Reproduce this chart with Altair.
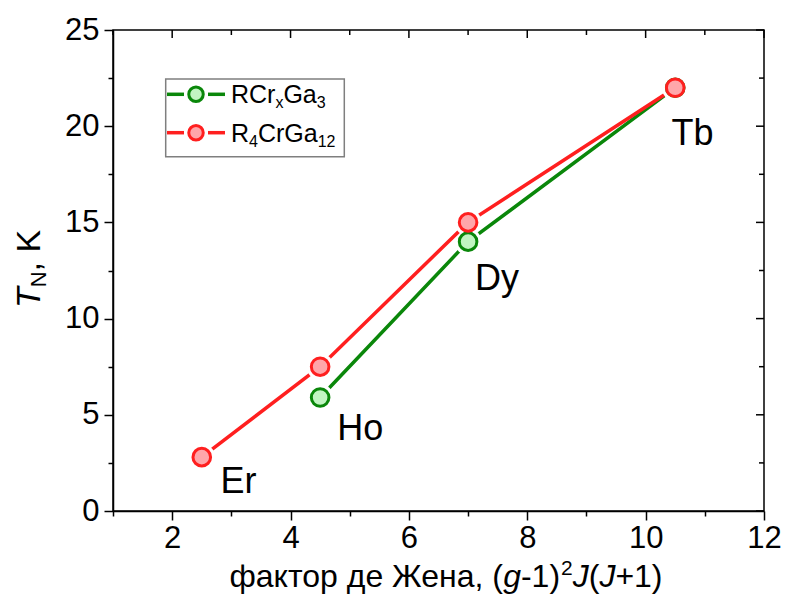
import altair as alt
import pandas as pd

# ---------------- data ----------------
elements = ["Er", "Ho", "Dy", "Tb"]
de_gennes = [2.5, 4.5, 7.0, 10.5]
# RCrxGa3 (no Er point)
green_elements = ["Ho", "Dy", "Tb"]
green_x = [4.5, 7.0, 10.5]
green_tn = [5.9, 14.0, 22.0]
# R4CrGa12
red_x = [2.5, 4.5, 7.0, 10.5]
red_tn = [2.8, 7.5, 15.0, 22.0]
# element label anchors (data coordinates)
label_x = [3.12, 5.18, 7.49, 10.79]
label_y = [0.94, 3.69, 11.49, 19.02]
x_tick_values = [1, 2, 3, 4, 5, 6, 7, 8, 9, 10, 11, 12]
y_tick_values = [0, 2.5, 5, 7.5, 10, 12.5, 15, 17.5, 20, 22.5, 25]

# ---------------- style ----------------
FONT = "Liberation Sans"
W, H = 651, 481
G_STROKE, G_FILL = "#0a870a", "#c2f5c2"
R_STROKE, R_FILL = "#ff1f1f", "#ffa6aa"

green_df = pd.DataFrame({"x": green_x, "y": green_tn, "el": green_elements})
red_df = pd.DataFrame({"x": red_x, "y": red_tn, "el": elements})
lab_df = pd.DataFrame({"x": label_x, "y": label_y, "el": elements})
xt_df = pd.DataFrame({"x": x_tick_values})
xt_df["major"] = xt_df["x"] % 2 == 0
yt_df = pd.DataFrame({"y": y_tick_values})
yt_df["major"] = yt_df["y"] % 5 == 0
one = pd.DataFrame({"k": [0]})

XS = alt.Scale(domain=[1, 12], nice=False, zero=False)
YS = alt.Scale(domain=[0, 25], nice=False, zero=False)

x_axis = alt.Axis(
    values=x_tick_values, title=None, labelFlush=False, labelOverlap=False,
    labelExpr="datum.value % 2 === 0 ? datum.label : ''",
    tickSize={"condition": {"test": "datum.value % 2 !== 0", "value": 5}, "value": 9},
    labelPadding=3,
)
y_axis = alt.Axis(
    values=y_tick_values, title=None, labelOverlap=False,
    labelExpr="datum.value % 5 === 0 ? datum.label : ''",
    tickSize={"condition": {"test": "datum.value % 5 !== 0", "value": 5}, "value": 9},
    labelPadding=5,
)


def X(f="x"):
    return alt.X(f, type="quantitative", scale=XS, axis=x_axis)


def Y(f="y"):
    return alt.Y(f, type="quantitative", scale=YS, axis=y_axis)


# ---------------- data layers ----------------
green_line = alt.Chart(green_df).mark_line(color=G_STROKE, strokeWidth=3.5).encode(
    x=X(), y=Y(), order="x:Q")
green_halo = alt.Chart(green_df).mark_circle(size=720, color="white", opacity=1).encode(
    x=X(), y=Y())
red_line = alt.Chart(red_df).mark_line(color=R_STROKE, strokeWidth=3.5).encode(
    x=X(), y=Y(), order="x:Q")
red_halo = alt.Chart(red_df).mark_circle(size=720, color="white", opacity=1).encode(
    x=X(), y=Y())
green_pts = alt.Chart(green_df).mark_circle(
    size=310, fill=G_FILL, stroke=G_STROKE, strokeWidth=3, opacity=1).encode(
    x=X(), y=Y())
red_pts = alt.Chart(red_df).mark_circle(
    size=310, fill=R_FILL, stroke=R_STROKE, strokeWidth=3, opacity=1).encode(
    x=X(), y=Y())
labels = alt.Chart(lab_df).mark_text(
    font=FONT, fontSize=36, align="center", baseline="alphabetic", color="black").encode(
    x=X(), y=Y(), text="el:N")

# inward ticks on top and right frame edges
top_major = alt.Chart(xt_df[xt_df["major"]]).mark_rule(color="black", strokeWidth=1.5).encode(
    x=X(), y=alt.value(0), y2=alt.value(8))
top_minor = alt.Chart(xt_df[~xt_df["major"]]).mark_rule(color="black", strokeWidth=1.5).encode(
    x=X(), y=alt.value(0), y2=alt.value(5))
right_major = alt.Chart(yt_df[yt_df["major"]]).mark_rule(color="black", strokeWidth=1.5).encode(
    y=Y(), x=alt.value(W), x2=alt.value(W - 8))
right_minor = alt.Chart(yt_df[~yt_df["major"]]).mark_rule(color="black", strokeWidth=1.5).encode(
    y=Y(), x=alt.value(W), x2=alt.value(W - 5))

# ---------------- text helpers ----------------
ARIAL = {
    "R": 722, "C": 722, "r": 333, "x": 500, "G": 778, "a": 556, "g": 556, "J": 500,
    "(": 333, ")": 333, "-": 333, "+": 584, " ": 278, ",": 278, "K": 667, "T": 611,
    "N": 722, "ф": 823, "к": 438, "т": 417, "о": 556, "р": 556, "д": 583, "е": 556,
    "Ж": 901, "н": 547, "а": 556,
}
for d in "0123456789":
    ARIAL[d] = 556


def tw(s, size):
    return sum(ARIAL.get(c, 556) for c in s) * size / 1000.0


def piece(txt, x, y, size, style="normal", angle=0):
    return alt.Chart(one).mark_text(
        text=txt, font=FONT, fontSize=size, fontStyle=style, align="left",
        baseline="alphabetic", angle=angle, color="black").encode(
        x=alt.value(x), y=alt.value(y))


deco = []

# legend box
deco.append(alt.Chart(one).mark_rect(fill="white", stroke="#7f7f7f", strokeWidth=1.5).encode(
    x=alt.value(52.7), x2=alt.value(231.3), y=alt.value(49), y2=alt.value(126.7)))

LF, LS = 25, 16
legend_rows = [
    (64.3, G_STROKE, G_FILL, [("RCr", "n"), ("x", "s"), ("Ga", "n"), ("3", "s")]),
    (102.7, R_STROKE, R_FILL, [("R", "n"), ("4", "s"), ("CrGa", "n"), ("12", "s")]),
]
for yc, sc, fc, parts in legend_rows:
    deco.append(alt.Chart(one).mark_rule(color=sc, strokeWidth=3.5).encode(
        x=alt.value(54), x2=alt.value(71), y=alt.value(yc)))
    deco.append(alt.Chart(one).mark_rule(color=sc, strokeWidth=3.5).encode(
        x=alt.value(95), x2=alt.value(112), y=alt.value(yc)))
    deco.append(alt.Chart(one).mark_circle(
        size=210, fill=fc, stroke=sc, strokeWidth=3, opacity=1).encode(
        x=alt.value(83), y=alt.value(yc)))
    xp = 118.0
    base = yc + 9
    for t, kind in parts:
        if kind == "n":
            deco.append(piece(t, xp, base, LF))
            xp += tw(t, LF)
        else:
            deco.append(piece(t, xp, base + 5, LS))
            xp += tw(t, LS)

# x-axis title: фактор де Жена, (g-1)^2 J(J+1)
TF = 32
TS = 21
cyr = "фактор де Жена, ("
xparts = [("g", "i"), ("-1)", "n"), ("2", "sup"), ("J", "i"), ("(", "n"), ("J", "i"), ("+1)", "n")]
total = tw(cyr, TF) + sum(tw(t, TS if k == "sup" else TF) for t, k in xparts) + 3
xp = 333 - total / 2
xbase = 557
deco.append(piece(cyr, xp, xbase, TF))
xp += tw(cyr, TF)
for t, k in xparts:
    if k == "sup":
        deco.append(piece(t, xp + 1, xbase - 12, TS))
        xp += tw(t, TS) + 1
    else:
        if t == "g":
            xp += 2
        deco.append(piece(t, xp, xbase, TF, "italic" if k == "i" else "normal"))
        xp += tw(t, TF)

# y-axis title: T_N, K (rotated)
YF, YSUB = 34, 22
ytot = tw("T", YF) + tw("N", YSUB) + tw(", K", YF)
yp = 239 + ytot / 2
ybase = -73
deco.append(piece("T", ybase, yp, YF, "italic", 270))
yp -= tw("T", YF)
deco.append(piece("N", ybase + 6, yp, YSUB, "normal", 270))
yp -= tw("N", YSUB)
deco.append(piece(", K", ybase, yp, YF, "normal", 270))

chart = alt.layer(
    green_line, green_halo, red_line, red_halo, green_pts, red_pts, labels,
    top_major, top_minor, right_major, right_minor, *deco,
).properties(
    width=W, height=H,
    padding={"left": 105, "top": 22, "right": 17, "bottom": 83},
    autosize=alt.AutoSizeParams(type="none"),
).configure_view(
    stroke="black", strokeWidth=1.5,
).configure_axis(
    domainColor="black", domainWidth=1.5, tickColor="black", tickWidth=1.5,
    labelColor="black", labelFont=FONT, labelFontSize=31, grid=False,
)

chart.save("out.html", embed_options={"renderer": "svg", "actions": False})
